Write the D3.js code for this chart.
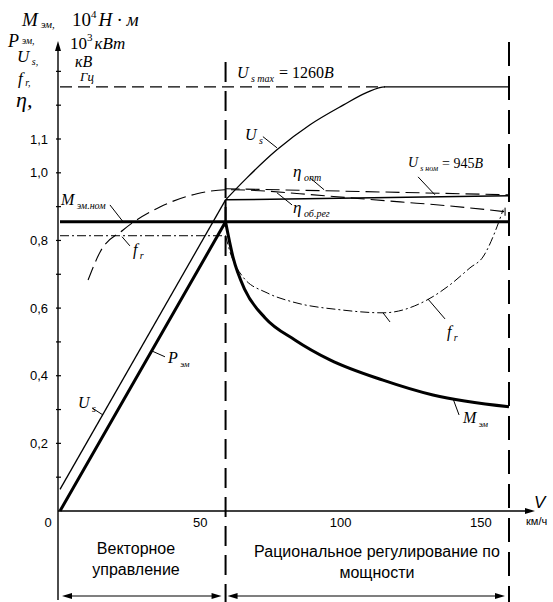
<!DOCTYPE html>
<html>
<head>
<meta charset="utf-8">
<script src="https://cdn.jsdelivr.net/npm/d3@7"></script>
<style>
body{margin:0;background:#fff}
text{fill:#000}
.it{font-family:"Liberation Serif","Times New Roman",serif;font-style:italic}
.rm{font-family:"Liberation Serif","Times New Roman",serif}
.sans{font-family:"Liberation Sans",Arial,sans-serif}
</style>
</head>
<body>
<div id="chart"></div>
<script>
// ticks
var speedTicks = [0, 50, 100, 150];
var valueTicks = [0.2, 0.4, 0.6, 0.8, 1.0, 1.1];
var valueTickLabels = ["0,2", "0,4", "0,6", "0,8", "1,0", "1,1"];
var minorTicks = [0.1, 0.2, 0.3, 0.4, 0.5, 0.6, 0.7, 0.8, 0.9, 1.0, 1.1, 1.2, 1.3];

// zone borders, km/h
var vBase = 59;
var vMax = 160;

// U_s, straight part and curve
var usLeftV = [0, 59];
var usLeft = [0.064, 0.92];
var usRightV = [59, 66.6, 77.3, 89.1, 100.9, 109.4, 115.8, 160];
var usRight = [0.92, 0.985, 1.068, 1.142, 1.200, 1.238, 1.254, 1.254];
var usMax = 1.254;

// P_эм and M_эм.ном
var pemV = [0, 59, 160];
var pem = [0, 0.855, 0.855];
var mnomV = [0, 59];
var mnom = [0.855, 0.855];

// M_эм above base speed
var memV = [59, 61.7, 65.9, 73.1, 83.7, 96.2, 115.1, 132.9, 160];
var mem = [0.855, 0.749, 0.654, 0.571, 0.506, 0.447, 0.387, 0.343, 0.308];

// f_r
var frLeftV = [0, 59];
var frLeft = [0.814, 0.814];
var frRightV = [59, 60.6, 65.2, 73.8, 83.0, 99.8, 115.1, 130.8, 139.0, 146.1, 150.7, 155.7, 157.9];
var frRight = [0.814, 0.766, 0.692, 0.645, 0.618, 0.595, 0.586, 0.624, 0.669, 0.719, 0.751, 0.840, 0.891];

// efficiencies
var etaRegV = [10.0, 14.3, 22.5, 35.6, 48.8, 59.5, 71.3, 85.5, 103.4, 121.2, 139.0, 158.6];
var etaReg = [0.683, 0.766, 0.831, 0.899, 0.938, 0.950, 0.947, 0.938, 0.926, 0.914, 0.902, 0.885];
var etaOptV = [59, 100, 160];
var etaOpt = [0.953, 0.946, 0.935];

// U_s ном
var usNomV = [59, 160];
var usNom = [0.920, 0.932];

var W = 553, H = 602;
var svg = d3.select("#chart").append("svg")
    .attr("width", W).attr("height", H);

var x = d3.scaleLinear().domain([0, 160]).range([60, 509]);
var y = d3.scaleLinear().domain([0, 1.1]).range([511, 139]);
var axisX = x(0) - 2;

function arrowHead(tx, ty, dir){
    // dir: "up", "right", "left"
    var p;
    if(dir == "up") p = [[tx, ty], [tx-3, ty+10], [tx+3, ty+10]];
    else if(dir == "right") p = [[tx, ty], [tx-10, ty-3], [tx-10, ty+3]];
    else p = [[tx, ty], [tx+10, ty-3], [tx+10, ty+3]];
    svg.append("path").attr("d", "M" + p.join("L") + "Z").attr("fill", "#000");
}

// axes
svg.append("line").attr("x1", axisX).attr("x2", axisX).attr("y1", 46).attr("y2", 600)
    .attr("stroke", "#000").attr("stroke-width", 1.4);
arrowHead(axisX, 41, "up");
svg.append("line").attr("x1", axisX).attr("x2", 528).attr("y1", y(0)).attr("y2", y(0))
    .attr("stroke", "#000").attr("stroke-width", 1.4);
arrowHead(535, y(0), "right");

svg.selectAll(".ytick").data(minorTicks).enter().append("line")
    .attr("x1", axisX - 2).attr("x2", axisX + 3)
    .attr("y1", function(d){ return y(d); }).attr("y2", function(d){ return y(d); })
    .attr("stroke", "#000").attr("stroke-width", 1.2);

svg.selectAll(".ylab").data(valueTicks).enter().append("text")
    .attr("class", "sans").attr("font-size", 13)
    .attr("x", 48).attr("y", function(d){ return y(d); }).attr("dy", "0.35em")
    .attr("text-anchor", "end")
    .text(function(d, i){ return valueTickLabels[i]; });

svg.selectAll(".xlab").data(speedTicks).enter().append("text")
    .attr("class", "sans").attr("font-size", 13)
    .attr("x", function(d){ return d == 0 ? 48 : x(d); }).attr("y", 527)
    .attr("text-anchor", "middle")
    .text(function(d){ return d; });

svg.append("text").attr("class", "sans").attr("font-size", 17).attr("font-style", "italic")
    .attr("x", 534).attr("y", 508).text("V");
svg.append("text").attr("class", "sans").attr("font-size", 11)
    .attr("x", 526).attr("y", 525).text("км/ч");

// zone borders
svg.append("line").attr("x1", x(vBase)).attr("x2", x(vBase)).attr("y1", 62).attr("y2", 602)
    .attr("stroke", "#000").attr("stroke-width", 2)
    .attr("stroke-dasharray", "20,9");
svg.append("line").attr("x1", x(vMax)).attr("x2", x(vMax)).attr("y1", 42).attr("y2", 602)
    .attr("stroke", "#000").attr("stroke-width", 2)
    .attr("stroke-dasharray", "24,10");

var lin = d3.line().x(function(d){ return x(d[0]); }).y(function(d){ return y(d[1]); });
var smooth = d3.line().x(function(d){ return x(d[0]); }).y(function(d){ return y(d[1]); })
    .curve(d3.curveMonotoneX);

function draw(gen, vs, vals, w, dash){
    svg.append("path").datum(d3.zip(vs, vals))
        .attr("d", gen).attr("fill", "none")
        .attr("stroke", "#000").attr("stroke-width", w)
        .attr("stroke-dasharray", dash || null);
}

// U_s max dashed level
draw(lin, [0, usRightV[6]], [usMax, usMax], 1.1, "12,6");

draw(lin, frLeftV, frLeft, 1, "9,3,2,3");
draw(smooth, frRightV, frRight, 1, "9,3,2,3");
draw(smooth, etaRegV, etaReg, 1.1, "14,6");
draw(lin, etaOptV, etaOpt, 1.1, "14,6");
draw(lin, usNomV, usNom, 1.5);
draw(lin, [vBase, vBase], [usNom[0], pem[1]], 2);
draw(lin, usLeftV, usLeft, 1.3);
draw(smooth, usRightV, usRight, 1.3);
draw(lin, mnomV, mnom, 3);
draw(lin, pemV, pem, 3);
draw(smooth, memV, mem, 3);

// leader lines (speed, value pairs)
var leaders = [
    [[17.8, 0.905], [22.5, 0.855]],
    [[22.1, 0.811], [24.9, 0.784]],
    [[11.4, 0.305], [15.3, 0.284]],
    [[32.8, 0.473], [37.4, 0.456]],
    [[72.3, 1.107], [77.3, 1.074]],
    [[89.1, 0.985], [94.1, 0.950]],
    [[127.6, 0.988], [133.6, 0.935]],
    [[82.7, 0.905], [77.3, 0.941]],
    [[131.1, 0.627], [137.2, 0.568]],
    [[115.1, 0.586], [117.6, 0.559]],
    [[140.1, 0.331], [142.2, 0.284]],
    [[158.6, 0.897], [158.6, 0.873]]
];
svg.selectAll(".leader").data(leaders).enter().append("path")
    .attr("d", lin).attr("fill", "none").attr("stroke", "#000").attr("stroke-width", 1);

// italic labels with subscripts
function label(px, py, main, sub, size, subSize, rest, subDy){
    var t = svg.append("text").attr("class", "it").attr("x", px).attr("y", py)
        .attr("font-size", size);
    t.append("tspan").text(main);
    var dy = subDy === undefined ? size * 0.25 : subDy;
    if(sub){
        t.append("tspan").attr("dx", size * 0.15).attr("dy", dy)
            .attr("font-size", subSize).text(sub);
    }
    if(rest){
        t.append("tspan").attr("font-size", subSize).text(rest);
    }
    return t;
}

label(61, 205, "M", "эм.ном", 16, 10);
label(133, 255, "f", "r", 16, 10);
label(78, 408, "U", "s", 16, 10);
label(168, 363, "P", "эм", 16, 9);
label(245, 140, "U", "s", 16, 10);
label(293, 177, "η", "опт", 17, 10);
label(293, 213, "η", "об.рег", 17, 10);
label(447, 337, "f", "r", 16, 10);
label(463, 423, "M", "эм", 16, 9);

var tmax = label(237, 78, "U", "s max", 16, 10);
tmax.append("tspan").attr("class", "rm").attr("font-style", "normal").attr("dx", 5).attr("dy", -4).text("= 1260");
tmax.append("tspan").text("B");
var tnom = label(408, 167, "U", "s ном", 14, 8);
tnom.append("tspan").attr("class", "rm").attr("font-style", "normal").attr("dx", 4).attr("dy", -3).text("= 945");
tnom.append("tspan").text("B");

// y-axis title block
label(22, 26, "M", "эм,", 19, 11, null, 2);
var t1 = svg.append("text").attr("class", "rm").attr("x", 72).attr("y", 26).attr("font-size", 19);
t1.append("tspan").text("10");
t1.append("tspan").attr("font-size", 11).attr("dy", -8).text("4");
t1.append("tspan").attr("class", "it").attr("dy", 8).attr("dx", 2).text("H · м");

label(8, 47, "P", "эм,", 18, 10, null, -3);
var t2 = svg.append("text").attr("class", "rm").attr("x", 70).attr("y", 49).attr("font-size", 17);
t2.append("tspan").text("10");
t2.append("tspan").attr("font-size", 11).attr("dy", -8).text("3");
t2.append("tspan").attr("class", "it").attr("dy", 8).attr("dx", 2).text("кВт");

label(17, 62, "U", "s,", 17, 10, null, 3);
svg.append("text").attr("class", "it").attr("x", 75).attr("y", 67).attr("font-size", 16).text("кВ");
label(18, 84, "f", "r,", 17, 10, null, 2);
svg.append("text").attr("class", "it").attr("x", 80).attr("y", 81).attr("font-size", 13).text("Гц");
svg.append("text").attr("class", "it").attr("x", 16).attr("y", 107).attr("font-size", 22).text("η,");

// zones below the axis
var zones = [
    {lines: ["Векторное", "управление"], cx: 136, y0: 554},
    {lines: ["Рациональное регулирование по", "мощности"], cx: 377, y0: 557}
];
zones.forEach(function(z){
    z.lines.forEach(function(s, i){
        svg.append("text").attr("class", "sans").attr("font-size", 16)
            .attr("x", z.cx).attr("y", z.y0 + i * 21).attr("text-anchor", "middle").text(s);
    });
});

var spans = [[0, vBase], [vBase, vMax]];
spans.forEach(function(s){
    var a = x(s[0]) + 2, b = x(s[1]) - 4;
    svg.append("line").attr("x1", a + 6).attr("x2", b - 6).attr("y1", 596).attr("y2", 596)
        .attr("stroke", "#000").attr("stroke-width", 1.2);
    arrowHead(a, 596, "left");
    arrowHead(b, 596, "right");
});
</script>
</body>
</html>
